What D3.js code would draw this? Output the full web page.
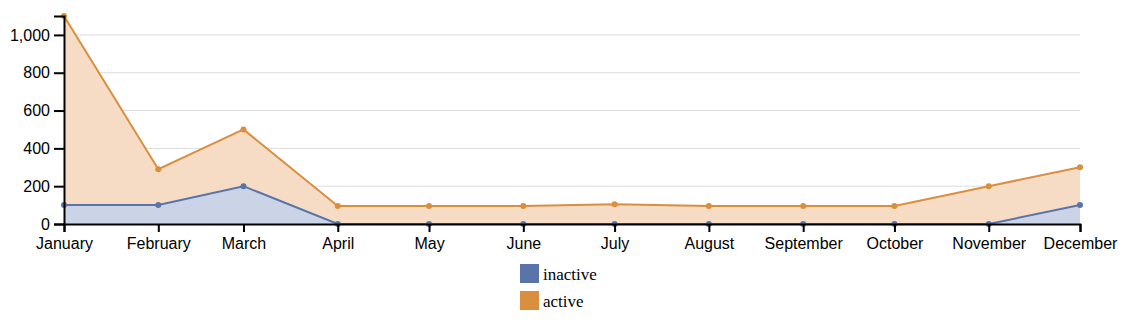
<!DOCTYPE html>
<html><head><meta charset="utf-8">
<script src="https://cdn.jsdelivr.net/npm/d3@7"></script>
<style>body{margin:0;background:#fff}svg{display:block}</style>
</head><body><svg id="c" width="1146" height="322"></svg>
<script>
const months = ["January","February","March","April","May","June","July","August","September","October","November","December"];
const inactive = [100,100,200,0,0,0,0,0,0,0,0,100];
const active = [1000,190,300,95,95,95,105,95,95,95,200,200];
const seriesNames = ["inactive","active"];
const yTicks = [0,200,400,600,800,1000];
const colors = ["#5a74aa","#d98f3e"];
const fills = ["#cad4e6","#f6dcc4"];

const svg = d3.select("#c");
const margin = {left:64, right:66, top:16, bottom:98};
const W = 1146, H = 322;
const dates = months.map((m,i)=>new Date(2021, i, 1));
const table = months.map((m,i)=>({month:m, date:dates[i], inactive:inactive[i], active:active[i]}));
const stack = d3.stack().keys(seriesNames)(table);
const x = d3.scaleTime().domain([dates[0], dates[dates.length-1]]).range([margin.left, W-margin.right]);
const ymax = d3.max(stack[stack.length-1], d=>d[1]);
const y = d3.scaleLinear().domain([0, ymax]).range([H-margin.bottom, margin.top]);

// grid
svg.append("g").selectAll("line").data(yTicks.filter(t=>t>0)).join("line")
  .attr("x1", margin.left).attr("x2", W-margin.right)
  .attr("y1", d=>y(d)).attr("y2", d=>y(d))
  .attr("stroke","#dddddd").attr("stroke-width",1);

const line = d3.line().x(d=>x(d.data.date)).y(d=>y(d[1]));
const order = [1,0];
order.forEach(k=>{
  const a = d3.area().x(d=>x(d.data.date)).y0(y(0)).y1(d=>y(d[1]));
  svg.append("path").datum(stack[k]).attr("d", a).attr("fill", fills[k]).attr("stroke","none");
});
order.forEach(k=>{
  const s = stack[k];
  svg.append("path").datum(s).attr("d", line).attr("fill","none").attr("stroke", colors[k]).attr("stroke-width",2);
  svg.append("g").selectAll("circle").data(s).join("circle")
    .attr("cx", d=>x(d.data.date)).attr("cy", d=>y(d[1])).attr("r",3).attr("fill", colors[k]);
});

// axes
const xAxis = svg.append("g").attr("transform",`translate(0,${y(0)})`)
  .call(d3.axisBottom(x).tickValues(dates).tickFormat((d,i)=>months[i]).tickSizeOuter(0).tickSize(8));
const yAxis = svg.append("g").attr("transform",`translate(${margin.left},0)`)
  .call(d3.axisLeft(y).tickValues(yTicks).tickSize(10).tickSizeOuter(10));
[xAxis,yAxis].forEach(g=>{
  g.select(".domain").attr("stroke","#000").attr("stroke-width",2);
  g.selectAll(".tick line").attr("stroke","#000").attr("stroke-width",2);
  g.selectAll("text").attr("font-family","Liberation Sans, Arial, sans-serif").attr("font-size",16).attr("fill","#000");
});
xAxis.selectAll("text").attr("y",14).attr("dy","0.71em");
yAxis.selectAll("text").attr("x",-14);

// legend
const lg = svg.append("g");
seriesNames.forEach((n,i)=>{
  lg.append("rect").attr("x",520).attr("y",264+i*27).attr("width",19).attr("height",19).attr("fill",colors[i]);
  lg.append("text").attr("x",543).attr("y",280+i*27).text(n)
    .attr("font-family","Liberation Serif, Times New Roman, serif").attr("font-size",17).attr("fill","#000");
});
</script></body></html>
